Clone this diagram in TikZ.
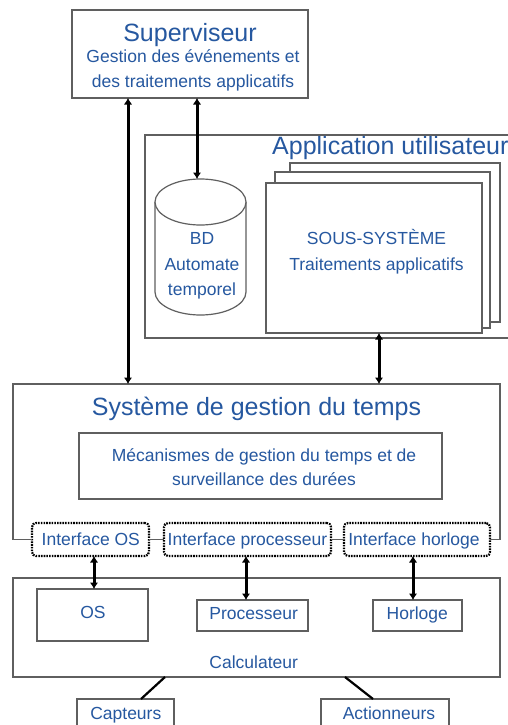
\documentclass[tikz,border=0pt]{standalone}
\usepackage{fontspec}
\setmainfont{Liberation Sans}
\usetikzlibrary{arrows.meta}
\definecolor{txt}{RGB}{38,88,160}
\definecolor{edge}{RGB}{95,95,95}
\begin{document}
\begin{tikzpicture}[x=1pt,y=-1pt,
  box/.style={draw=edge,line width=1.2pt,fill=white,inner sep=0pt,outer sep=0pt},
  ibox/.style={draw=black,line width=2.2pt,dash pattern=on 1.6pt off 1.1pt,rounded corners=4pt,inner sep=0pt,outer sep=0pt,fill=white},
  lbl/.style={text=txt,font=\fontsize{17.5}{21}\selectfont,anchor=base,inner sep=0pt},
  ttl/.style={text=txt,font=\fontsize{25}{30}\selectfont,anchor=base,inner sep=0pt},
  dar/.style={{Latex[length=6.5pt,width=8.5pt]}-{Latex[length=6.5pt,width=8.5pt]},line width=3pt,black},
  link/.style={line width=2.2pt,black}]
\useasboundingbox (0,0) rectangle (508,725);
\clip (0,0) rectangle (508,725);
\fill[white] (0,0) rectangle (508,725);

% Superviseur
\node[box,minimum width=236,minimum height=88] (sup) at (190,54) {};
\node[ttl] (supt) at (190,42) {Superviseur};
\node[lbl] (supl1) at (193,63) {Gestion des événements et};
\node[lbl] (supl2) at (193,88) {des traitements applicatifs};

% Application utilisateur
\node[box,fill=none,minimum width=365,minimum height=203] (app) at (327.5,236.5) {};
\node[ttl,anchor=base west] (appt) at (272,154) {Application utilisateur};

% stacked subsystem boxes
\node[box,minimum width=210,minimum height=159] (ss3) at (395,242.5) {};
\node[box,minimum width=215,minimum height=156] (ss2) at (382.5,250) {};
\node[box,minimum width=216,minimum height=150] (ss1) at (374,258) {};
\node[lbl] (sst1) at (376.5,244) {SOUS-SYSTÈME};
\node[lbl] (sst2) at (376.5,270) {Traitements applicatifs};

% cylinder BD
\draw[draw=edge,line width=1.2pt,fill=white] (155,202) -- (155,292)
  arc[start angle=180,end angle=360,x radius=45.5pt,y radius=23pt] -- (246,202);
\draw[draw=edge,line width=1.2pt,fill=white] (200.5,202) ellipse [x radius=45.5pt,y radius=23pt];
\node[inner sep=0,outer sep=0,minimum width=91,minimum height=136] (bd) at (200.5,247) {};
\coordinate (bdtop) at (197,179);
\node[lbl] (bdt1) at (202,244) {BD};
\node[lbl] (bdt2) at (202,270) {Automate};
\node[lbl] (bdt3) at (202,295) {temporel};

% Système de gestion du temps
\node[inner sep=0,outer sep=0,minimum width=487,minimum height=159] (sys) at (256.5,463.5) {};
\node[ttl] (syst) at (256.5,415) {Système de gestion du temps};
\node[box,minimum width=363,minimum height=66] (mec) at (260.5,466) {};
\node[lbl] (mec1) at (264,461) {Mécanismes de gestion du temps et de};
\node[lbl] (mec2) at (264,485) {surveillance des durées};

\node[ibox,minimum width=117,minimum height=33] (ios) at (90.5,539.5) {};
\node[ibox,minimum width=167,minimum height=33] (ipr) at (247.5,539.5) {};
\node[ibox,minimum width=146,minimum height=33] (iho) at (417,539.5) {};
\node[lbl] (iost) at (90.8,545.5) {Interface OS};
\node[lbl] (iprt) at (247.5,545.5) {Interface processeur};
\node[lbl] (ihot) at (414,545.5) {Interface horloge};

\draw[draw=edge,line width=1.2pt] (ios.west) -| (sys.north west) -- (sys.north east) |- (iho.east);
\draw[draw=edge,line width=1.2pt] (ios.east) -- (ipr.west);
\draw[draw=edge,line width=1.2pt] (ipr.east) -- (iho.west);

% Calculateur
\node[box,minimum width=487,minimum height=99] (calc) at (256.5,627.5) {};
\node[lbl] (calct) at (253.7,668) {Calculateur};
\node[box,minimum width=111,minimum height=52] (os) at (92.5,615) {};
\node[box,minimum width=111,minimum height=31] (proc) at (252.5,615.5) {};
\node[box,minimum width=89,minimum height=31] (horl) at (417.5,615.5) {};
\node[lbl] (ost) at (93,618.5) {OS};
\node[lbl] (proct) at (253.7,619) {Processeur};
\node[lbl] (horlt) at (417.3,619) {Horloge};

% Capteurs / Actionneurs
\node[box,minimum width=97,minimum height=36] (capt) at (125.5,717) {};
\node[box,minimum width=128,minimum height=36] (act) at (385,717) {};
\node[lbl] (captt) at (125.8,719) {Capteurs};
\node[lbl] (actt) at (389,719) {Actionneurs};

% arrows
\coordinate (xa) at (128,0);
\coordinate (xc) at (379,0);
\coordinate (x1) at (94,0);
\coordinate (x2) at (246,0);
\coordinate (x3) at (413,0);
\draw[dar] (sup.south -| xa) -- (sys.north -| xa);
\draw[dar] (sup.south -| bdtop) -- (bdtop);
\draw[dar] (ss1.south -| xc) -- (sys.north -| xc);
\draw[dar] (ios.south -| x1) -- (os.north -| x1);
\draw[dar] (ipr.south -| x2) -- (proc.north -| x2);
\draw[dar] (iho.south -| x3) -- (horl.north -| x3);

% links
\coordinate (l1a) at (165,0);
\coordinate (l1b) at (141,0);
\coordinate (l2a) at (345,0);
\coordinate (l2b) at (373,0);
\draw[link] (calc.south -| l1a) -- (capt.north -| l1b);
\draw[link] (calc.south -| l2a) -- (act.north -| l2b);
\end{tikzpicture}
\end{document}
